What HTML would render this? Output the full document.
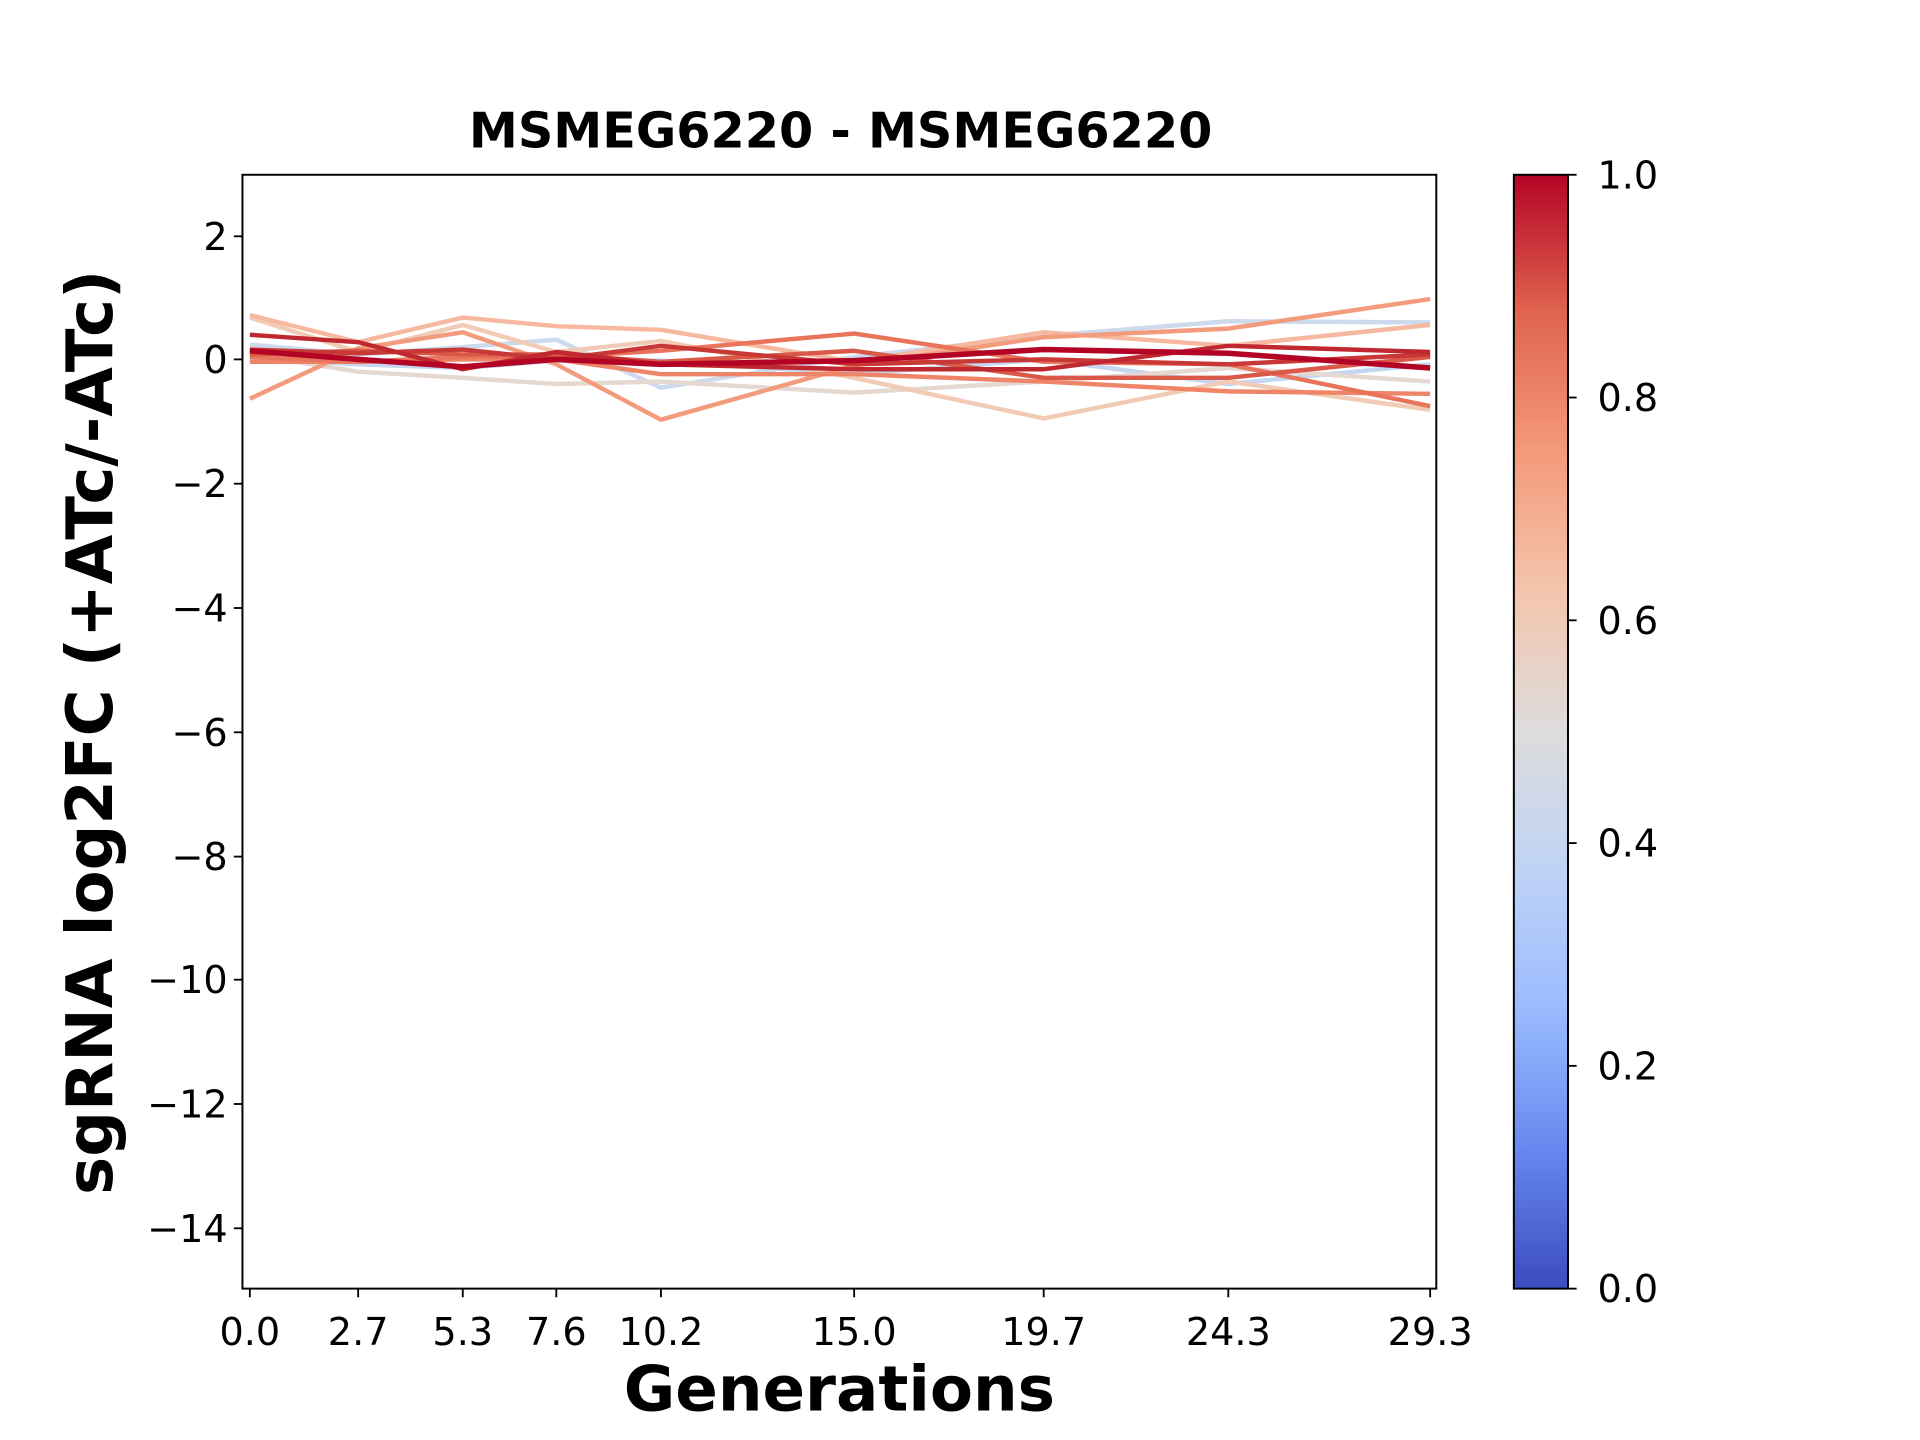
<!DOCTYPE html>
<html><head><meta charset="utf-8"><style>html,body{margin:0;padding:0;background:#fff}svg{display:block}</style></head>
<body>
<svg width="1920" height="1440" viewBox="0 0 1560 1170" xmlns="http://www.w3.org/2000/svg" font-family="DejaVu Sans, Liberation Sans, sans-serif">
<defs>
<linearGradient id="cw" x1="0" y1="1" x2="0" y2="0">
<stop offset="0" stop-color="#3b4cc0"/><stop offset="0.125" stop-color="#6788ee"/><stop offset="0.25" stop-color="#9abbff"/><stop offset="0.375" stop-color="#bfd3f6"/><stop offset="0.5" stop-color="#dddcdc"/><stop offset="0.625" stop-color="#f4c5ad"/><stop offset="0.75" stop-color="#f49a7b"/><stop offset="0.875" stop-color="#e0654f"/><stop offset="1" stop-color="#b40426"/>
</linearGradient>
<clipPath id="ax"><rect x="197" y="142" width="970" height="905"/></clipPath>
</defs>
<text x="683" y="120" font-size="40" font-weight="bold" text-anchor="middle">MSMEG6220 - MSMEG6220</text>
<g clip-path="url(#ax)" fill="none" stroke-width="3.6" stroke-linejoin="round">
<polyline stroke="#c5d6f2" points="203,291 291,296 376,299 452,293 537,293 694,304 848,292 998,312 1162,296"/>
<polyline stroke="#cdd9ec" points="203,280 291,288 376,282 452,276 537,315 694,290 848,273 998,261 1162,262"/>
<polyline stroke="#e5d8d1" points="203,288 291,302 376,307 452,312 537,310 694,319 848,310 998,299 1162,310"/>
<polyline stroke="#f2cbb7" points="203,258 291,286 376,264 452,286 537,277 694,307 848,340 998,310 1162,333"/>
<polyline stroke="#f6b89e" points="203,256 291,278 376,258 452,265 537,268 694,294 848,270 998,281 1162,264"/>
<polyline stroke="#f39c7d" points="203,324 291,283 376,270 452,296 537,341 694,297 848,274 998,267 1162,243"/>
<polyline stroke="#ee8468" points="203,294 291,294 376,292 452,292 537,304 694,304 848,310 998,318 1162,320"/>
<polyline stroke="#e7745b" points="203,290 291,294 376,290 452,290 537,285 694,271 848,294 998,296 1162,330"/>
<polyline stroke="#d95847" points="203,288 291,285 376,288 452,288 537,294 694,285 848,307 998,307 1162,290"/>
<polyline stroke="#c83836" points="203,284 291,287 376,284 452,292 537,281 694,296 848,292 998,296 1162,288"/>
<polyline stroke="#c0282f" points="203,272 291,278 376,300 452,286 537,296 694,300 848,300 998,281 1162,286"/>
<polyline stroke="#b40426" stroke-width="4.5" points="203,285 291,292 376,298 452,292 537,296 694,293 848,284 998,287 1162,299"/>
</g>
<rect x="197" y="142" width="970" height="905" fill="none" stroke="#000" stroke-width="1.6"/>
<g stroke="#000" stroke-width="1.5">
<line x1="190" y1="192" x2="197" y2="192"/><line x1="190" y1="292" x2="197" y2="292"/><line x1="190" y1="393" x2="197" y2="393"/><line x1="190" y1="494" x2="197" y2="494"/><line x1="190" y1="595" x2="197" y2="595"/><line x1="190" y1="696" x2="197" y2="696"/><line x1="190" y1="796" x2="197" y2="796"/><line x1="190" y1="897" x2="197" y2="897"/><line x1="190" y1="998" x2="197" y2="998"/>
<line x1="203" y1="1047" x2="203" y2="1054"/><line x1="291" y1="1047" x2="291" y2="1054"/><line x1="376" y1="1047" x2="376" y2="1054"/><line x1="452" y1="1047" x2="452" y2="1054"/><line x1="537" y1="1047" x2="537" y2="1054"/><line x1="694" y1="1047" x2="694" y2="1054"/><line x1="848" y1="1047" x2="848" y2="1054"/><line x1="998" y1="1047" x2="998" y2="1054"/><line x1="1162" y1="1047" x2="1162" y2="1054"/>
</g>
<g font-size="31" text-anchor="end">
<text x="185" y="203">2</text><text x="185" y="303">0</text><text x="185" y="404">−2</text><text x="185" y="505">−4</text><text x="185" y="606">−6</text><text x="185" y="707">−8</text><text x="185" y="807">−10</text><text x="185" y="908">−12</text><text x="185" y="1009">−14</text>
</g>
<g font-size="31" text-anchor="middle">
<text x="203" y="1093">0.0</text><text x="291" y="1093">2.7</text><text x="376" y="1093">5.3</text><text x="452" y="1093">7.6</text><text x="537" y="1093">10.2</text><text x="694" y="1093">15.0</text><text x="848" y="1093">19.7</text><text x="998" y="1093">24.3</text><text x="1162" y="1093">29.3</text>
</g>
<text x="682" y="1146" font-size="51" font-weight="bold" text-anchor="middle">Generations</text>
<text transform="translate(91,595) rotate(-90)" font-size="52" font-weight="bold" text-anchor="middle">sgRNA log2FC (+ATc/-ATc)</text>
<rect x="1230" y="142" width="44" height="905" fill="url(#cw)" stroke="#000" stroke-width="1.6"/>
<g stroke="#000" stroke-width="1.5">
<line x1="1274" y1="142" x2="1281" y2="142"/><line x1="1274" y1="323" x2="1281" y2="323"/><line x1="1274" y1="504" x2="1281" y2="504"/><line x1="1274" y1="685" x2="1281" y2="685"/><line x1="1274" y1="866" x2="1281" y2="866"/><line x1="1274" y1="1047" x2="1281" y2="1047"/>
</g>
<g font-size="31">
<text x="1298" y="153">1.0</text><text x="1298" y="334">0.8</text><text x="1298" y="515">0.6</text><text x="1298" y="696">0.4</text><text x="1298" y="877">0.2</text><text x="1298" y="1058">0.0</text>
</g>
</svg>
</body></html>
